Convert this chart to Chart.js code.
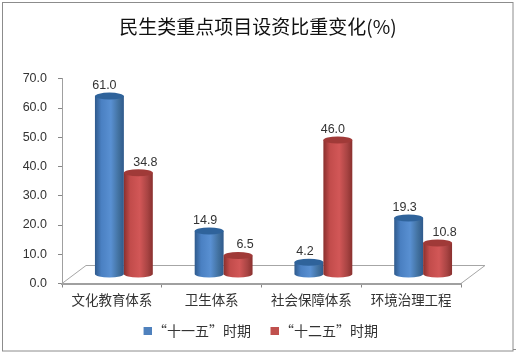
<!DOCTYPE html>
<html lang="zh-CN">
<head>
<meta charset="utf-8">
<script src="https://cdn.jsdelivr.net/npm/chart.js@4/dist/chart.umd.min.js"></script>
<style>
  html, body { margin: 0; padding: 0; background: #fff; }
  #wrap { width: 516px; height: 355px; position: relative; }
</style>
</head>
<body>
<div id="wrap"><canvas id="grafico" lang="zh-CN"></canvas></div>
<script>
const categorias = ["文化教育体系", "卫生体系", "社会保障体系", "环境治理工程"];
const serie_11 = [61.0, 14.9, 4.2, 19.3];
const serie_12 = [34.8, 6.5, 46.0, 10.8];
const nome_11 = "“十一五”时期";
const nome_12 = "“十二五”时期";
const titulo = "民生类重点项目设资比重变化(%)";

const FONTE_CJK = '"Noto Sans CJK SC", sans-serif';
const FONTE_NUM = '"Liberation Sans", sans-serif';

// cores do cilindro
const cores = [
  { borda: "#2f5a8c", claro: "#4a80c2", meio: "#5990d2", sombra: "#42719f", tampa: "#2f639b" },
  { borda: "#8a302e", claro: "#c24c4b", meio: "#d25757", sombra: "#a84443", tampa: "#a03a38" },
];
// ajuste horizontal dos rotulos, como no original
const ajusteRotulo = [
  [-5, -4, -4, -4],
  [7, 7, -5, 7],
];

// profundidade do piso 3D
const PROF_X = 24;
const PROF_Y = 18;
const RY = 3.5;

// marcador da legenda: quadrado deslocado para a direita, mais perto do texto
function marcador(cor) {
  const m = document.createElement("canvas");
  m.width = 19;
  m.height = 8;
  const c = m.getContext("2d");
  c.fillStyle = cor;
  c.fillRect(11, 0, 8, 8);
  return m;
}

const fundo = {
  id: "fundo",
  beforeDraw(chart) {
    const c = chart.ctx;
    c.save();
    c.fillStyle = "#fff";
    c.fillRect(0, 0, chart.width, chart.height);
    c.strokeStyle = "#8c8c8c";
    c.lineWidth = 1;
    c.strokeRect(2.5, 2.5, 510.5, 348.5);
    c.beginPath();
    c.moveTo(513, 349.5);
    c.lineTo(516, 349.5);
    c.stroke();
    c.restore();
  },
  afterLayout(chart) {
    // legenda mais alta que o padrao
    chart.legend.top -= 7;
    chart.legend.bottom -= 7;
  },
  beforeDatasetsDraw(chart) {
    // piso
    const c = chart.ctx;
    const x = chart.scales.x;
    const y0 = chart.scales.y.getPixelForValue(0);
    c.save();
    c.strokeStyle = "#a6a6a6";
    c.lineWidth = 1;
    c.beginPath();
    c.moveTo(x.left, y0);
    c.lineTo(x.left + PROF_X, y0 - PROF_Y);
    c.lineTo(x.right + PROF_X, y0 - PROF_Y);
    c.lineTo(x.right, y0);
    c.stroke();
    c.restore();
  },
};

const cilindros = {
  id: "cilindros",
  // o desenho normal das barras e trocado pelos cilindros
  beforeDatasetDraw() {
    return false;
  },
  afterDatasetsDraw(chart) {
    const c = chart.ctx;
    // vermelho por cima do azul
    chart.data.datasets.forEach((ds, i) => {
      const cor = cores[i];
      chart.getDatasetMeta(i).data.forEach((bar) => {
        const cx = bar.x + PROF_X / 2;
        const rx = bar.width / 2;
        const topo = bar.y - PROF_Y / 2;
        const base = bar.base - PROF_Y / 2;
        const g = c.createLinearGradient(cx - rx, 0, cx + rx, 0);
        g.addColorStop(0, cor.borda);
        g.addColorStop(0.22, cor.claro);
        g.addColorStop(0.55, cor.meio);
        g.addColorStop(0.82, cor.sombra);
        g.addColorStop(1, cor.borda);
        c.save();
        c.fillStyle = g;
        c.beginPath();
        c.moveTo(cx - rx, topo);
        c.lineTo(cx - rx, base);
        c.ellipse(cx, base, rx, RY, 0, Math.PI, 0, true);
        c.lineTo(cx + rx, topo);
        c.closePath();
        c.fill();
        c.fillStyle = cor.tampa;
        c.beginPath();
        c.ellipse(cx, topo, rx, RY, 0, 0, Math.PI * 2);
        c.fill();
        c.restore();
      });
    });
    c.save();
    c.font = "12.5px " + FONTE_NUM;
    c.fillStyle = "#333";
    c.textAlign = "center";
    c.textBaseline = "middle";
    chart.data.datasets.forEach((ds, i) => {
      chart.getDatasetMeta(i).data.forEach((bar, j) => {
        const cx = bar.x + PROF_X / 2 + ajusteRotulo[i][j];
        c.fillText(ds.data[j].toFixed(1), cx, bar.y - PROF_Y / 2 - 10.5);
      });
    });
    c.restore();
  },
};

new Chart(document.getElementById("grafico"), {
  type: "bar",
  data: {
    labels: categorias,
    datasets: [
      { label: nome_11, data: serie_11, backgroundColor: "#4f81bd", borderWidth: 0 },
      { label: nome_12, data: serie_12, backgroundColor: "#c0504d", borderWidth: 0 },
    ],
  },
  options: {
    responsive: true,
    maintainAspectRatio: false,
    animation: false,
    categoryPercentage: 0.58,
    barPercentage: 1,
    layout: { padding: 0 },
    scales: {
      x: {
        grid: { drawOnChartArea: false, drawTicks: true, tickLength: 4, color: "#868686" },
        border: { color: "#a0a0a0", width: 2 },
        ticks: { color: "#333", font: { family: FONTE_CJK, size: 13.5 }, padding: 4, maxRotation: 0 },
        afterFit(s) {
          s.height = 33.5;
          s.paddingRight = 55;
        },
      },
      y: {
        min: 0,
        max: 70,
        grid: { drawOnChartArea: false, drawTicks: true, tickLength: 4, color: "#868686" },
        border: { color: "#a0a0a0", width: 1 },
        ticks: {
          stepSize: 10,
          color: "#333",
          padding: 11,
          font: { family: FONTE_NUM, size: 12.5 },
          callback: (v) => v.toFixed(1),
        },
        afterFit(s) {
          s.width = 62;
        },
      },
    },
    plugins: {
      title: {
        display: true,
        text: titulo,
        color: "#111",
        font: { family: FONTE_CJK, size: 19, weight: "normal" },
        padding: { top: 15, bottom: 41 },
      },
      legend: {
        position: "bottom",
        labels: {
          usePointStyle: true,
          boxWidth: 8,
          boxHeight: 8,
          padding: 14,
          color: "#333",
          font: { family: FONTE_CJK, size: 14 },
          generateLabels(chart) {
            const itens = Chart.defaults.plugins.legend.labels.generateLabels(chart);
            itens.forEach((item, i) => {
              item.pointStyle = marcador(chart.data.datasets[i].backgroundColor);
            });
            return itens;
          },
        },
      },
      tooltip: { enabled: false },
    },
  },
  plugins: [fundo, cilindros],
});
</script>
</body>
</html>
